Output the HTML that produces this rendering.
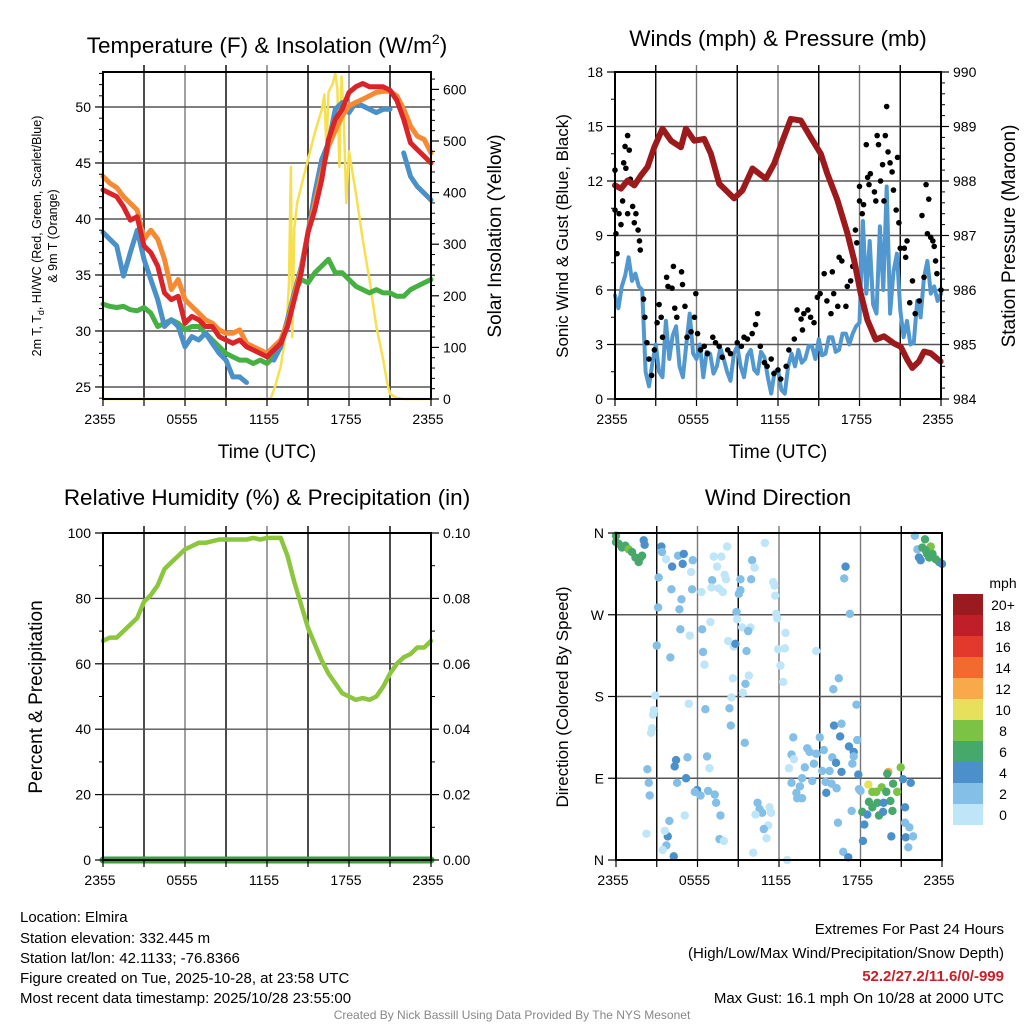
<!DOCTYPE html>
<html><head><meta charset="utf-8"><style>
html,body{margin:0;padding:0;background:#fff;}
svg{display:block;font-family:"Liberation Sans",Arial,sans-serif;}
</style></head>
<body>
<svg id="svg" width="1024" height="1024" viewBox="0 0 1024 1024" xmlns="http://www.w3.org/2000/svg">
<rect width="1024" height="1024" fill="#fff"/>
<g id="grids"></g>
<g id="marks"></g>
<g id="frames"></g>
<g id="texts" fill="#000">
<text x="267" y="53" font-size="22.5" text-anchor="middle">Temperature (F) &amp; Insolation (W/m<tspan font-size="14" dy="-9">2</tspan><tspan dy="9">)</tspan></text>
<text x="778" y="46" font-size="22.5" text-anchor="middle">Winds (mph) &amp; Pressure (mb)</text>
<text x="267" y="505" font-size="22.5" text-anchor="middle">Relative Humidity (%) &amp; Precipitation (in)</text>
<text x="778" y="505" font-size="22.5" text-anchor="middle">Wind Direction</text>
<text x="267" y="458" font-size="19" text-anchor="middle">Time (UTC)</text>
<text x="778" y="458" font-size="19" text-anchor="middle">Time (UTC)</text>
<g font-size="12.5" text-anchor="middle">
<text transform="translate(41,236) rotate(-90)">2m T, T<tspan font-size="9" dy="3">d</tspan><tspan dy="-3">, HI/WC (Red, Green, Scarlet/Blue)</tspan></text>
<text transform="translate(57,236) rotate(-90)">&amp; 9m T (Orange)</text>
</g>
<text transform="translate(501,236) rotate(-90)" font-size="19" text-anchor="middle">Solar Insolation (Yellow)</text>
<text transform="translate(568,236) rotate(-90)" font-size="17" text-anchor="middle">Sonic Wind &amp; Gust (Blue, Black)</text>
<text transform="translate(1015,236) rotate(-90)" font-size="19" text-anchor="middle">Station Pressure (Maroon)</text>
<text transform="translate(42,697) rotate(-90)" font-size="19" text-anchor="middle">Percent &amp; Precipitation</text>
<text transform="translate(568,697) rotate(-90)" font-size="17" text-anchor="middle">Direction (Colored By Speed)</text>
<g font-size="15">
<text x="20" y="922">Location: Elmira</text>
<text x="20" y="943">Station elevation: 332.445 m</text>
<text x="20" y="963">Station lat/lon: 42.1133; -76.8366</text>
<text x="20" y="983">Figure created on Tue, 2025-10-28, at 23:58 UTC</text>
<text x="20" y="1003">Most recent data timestamp: 2025/10/28 23:55:00</text>
</g>
<g font-size="15" text-anchor="end">
<text x="1004" y="934">Extremes For Past 24 Hours</text>
<text x="1004" y="958">(High/Low/Max Wind/Precipitation/Snow Depth)</text>
<text x="1004" y="981" fill="#c8202a" font-weight="bold">52.2/27.2/11.6/0/-999</text>
<text x="1004" y="1003">Max Gust: 16.1 mph On 10/28 at 2000 UTC</text>
</g>
<text x="512" y="1019" font-size="12" fill="#888" text-anchor="middle">Created By Nick Bassill Using Data Provided By The NYS Mesonet</text>
<text x="1003" y="588" font-size="14" text-anchor="middle">mph</text>
</g>
<g id="legend"></g>
</svg>
<script>
// ---- data ----
const timeLabels = ["2355","0555","1155","1755","2355"];
const timeTickHours = [0,6,12,18,24];
// temperatures every 0.5 h
const tempRed = [42.6,42.3,42,41.1,39.9,40.2,37.6,37,35.8,33.4,32.8,33.1,30.7,31.3,31,30.4,30.4,29.5,29.2,28.9,29.2,28.6,28.3,28,27.7,28.3,28.9,30.4,32.8,35.2,38.8,40.8,43.5,47.1,48.9,49.8,51.3,51.8,52.1,51.8,51.8,51.8,51.5,50.6,48.9,46.8,46.2,45.6,45];
const tempOrange = [43.8,43.2,42.8,42,41.4,40.8,38.2,39,38.2,36.4,33.7,34.6,32.8,32.2,31.6,31,30.7,30.1,29.8,29.8,30.1,28.9,28.6,28.3,28,28.6,29.2,30.7,33.1,35.5,38.8,41.4,44.1,46.5,47.9,49.2,50.1,50.4,50.7,51,51.3,51.4,51.4,51,49.8,48.3,47.4,47.1,45.9];
const tempBlue = [38.8,38.2,37.6,34.9,37,39,36.4,34.6,32.8,30.4,31,30.4,28.6,29.5,29.2,29.8,28.9,28,27.4,25.9,25.9,25.4,null,null,null,27.4,28.6,31,33.4,35.7,38.8,42.3,45.3,46.8,49.8,50.4,49.5,50.4,50.1,49.8,49.5,49.8,49.8,null,45.9,43.8,42.9,42.3,41.7];
const tempGreen = [32.4,32.2,32.1,32.2,31.9,31.8,32.1,31.6,30.4,30.7,31,30.7,30.1,30.4,30.4,29.8,29.2,28.6,28,27.7,27.4,27.4,27.1,27.4,27.1,27.7,28.9,31,33.4,34.6,34.3,35.2,35.8,36.4,35.2,35.2,34.6,34,33.7,33.4,33.7,33.4,33.4,33.1,33.1,33.7,34,34.3,34.6];
const solarHours = [0,12,12.3,12.6,13,13.4,13.6,13.75,13.85,14,14.2,14.5,15,15.5,16,16.2,16.35,16.5,16.8,17,17.15,17.3,17.45,17.6,17.8,18,18.5,19,19.5,20,20.5,20.8,21,21.5,22,24];
const solarWm2 = [0,0,3,25,63,130,220,450,120,330,380,412,464,516,560,590,480,595,610,632,600,450,625,560,380,480,400,309,231,141,76,30,10,2,0,0];
// wind every 0.25 h
const windSpeed = [5.7,5.0,6.2,6.8,7.8,6.5,6.9,6.2,6.0,1.5,0.7,2.0,3.0,1.5,1.2,4.3,2.2,3.5,4.0,1.8,1.2,3.0,4.7,2.5,2.2,3.0,1.2,2.6,2.5,1.4,1.8,2.8,2.2,1.5,1.0,2.5,2.9,1.8,1.2,2.4,2.7,1.6,1.4,2.6,2.3,1.2,0.3,1.5,1.6,0.5,0.3,1.8,2.5,1.8,2.7,2.0,2.2,2.9,2.9,2.2,3.3,2.4,2.5,3.4,3.4,2.6,2.7,3.6,3.6,3.0,3.6,4.0,4.2,9.8,5.8,8.7,5.2,4.7,9.5,6.0,11.7,4.7,7.0,8.0,4.9,3.4,4.3,3.0,3.1,5.4,4.5,6.7,7.6,5.8,6.2,5.4,5.8];
const gustHours = [0,0,0.07,0.15,0.3,0.44,0.56,0.64,0.74,0.8,0.93,1.05,1.13,0.93,1.3,1.42,1.54,1.7,1.8,1.86,2.1,2.2,2.35,2.5,2.7,2.9,3.1,3.25,3.4,3.5,3.8,3.9,4.2,4.3,4.4,4.55,4.9,4.97,5.15,5.3,5.6,5.85,5.95,6.08,6.3,6.57,6.8,7.2,7.4,7.67,7.9,8.3,8.5,9,9.3,9.5,9.75,10.1,10.35,10.5,10.7,11,11.2,11.5,11.7,12,12.2,12.6,12.8,13.2,13.4,13.7,13.8,13.9,14.2,14.4,14.65,14.9,15.1,15.4,15.6,15.9,16,16.1,16.4,16.5,16.7,17,17.1,17.35,17.5,17.7,17.8,18,18,18.2,18.3,18.5,18.6,18.7,18.8,19.1,19.2,19.3,19.4,19.55,19.7,19.8,19.9,20,20.1,20.25,20.4,20.5,20.7,20.8,20.9,21,21.3,21.4,21.5,21.7,21.9,22.1,22.4,22.6,22.75,22.9,23,23.1,23.24,23.4,23.5,23.6,23.7,24];
const gustMph = [12.6,10.4,9.1,8.0,10.2,9.6,10.9,13.0,13.9,12.7,14.5,13.7,12.1,10.2,10.6,9.7,10.2,9.3,8.7,8.2,5.5,4.5,3.1,2.2,1.3,2.7,4.2,5.2,4.5,3.4,6.7,6.2,6.1,7.3,5.0,4.5,7.0,6.3,5.1,3.4,3.7,4.5,5.8,3.6,2.7,2.9,2.5,3.4,3.1,2.9,2.3,2.7,2.5,3.1,2.9,3.4,3.3,3.6,4.1,4.7,2.9,2.0,1.8,2.2,1.4,1.6,1.1,1.8,2.7,3.3,4.9,4.4,3.8,4.7,4.9,4.5,4.2,5.6,5.8,6.9,5.4,4.7,7.0,5.8,5.1,7.8,7.6,5.1,6.2,6.5,7.3,9.3,8.6,10.9,11.7,10.2,10.7,14.0,12.2,11.8,12.4,11.4,10.9,14.5,14.0,12.0,12.9,10.9,14.5,16.1,13.6,13.0,12.5,11.5,10.4,13.3,9.7,8.3,8.3,7.8,8.7,5.3,6.5,4.7,5.4,10.1,6.7,11.8,9.1,11.0,8.9,8.7,8.4,7.6,6.9,6.0];
const presHours = [0,0.44,0.93,1.42,1.91,2.4,2.89,3.5,4.12,4.85,5.22,5.83,6.57,7.06,7.67,8.28,8.77,9.39,10.12,11.1,11.72,12.33,12.94,13.68,14.41,15.15,15.64,16.37,17.11,17.6,18.09,18.58,19.19,19.8,20.54,21.03,21.52,21.89,22.38,22.75,23.24,23.97];
const presMb = [987.92,987.86,988.01,987.92,988.10,988.26,988.62,988.96,988.74,988.62,988.96,988.74,988.77,988.50,987.95,987.80,987.68,987.83,988.23,988.04,988.32,988.74,989.14,989.11,988.80,988.50,988.13,987.65,987.04,986.55,985.94,985.45,985.09,985.15,985.02,984.96,984.72,984.57,984.69,984.87,984.84,984.69];
// RH every 0.5 h
const rhPct = [67,68,68,70,72,74,79,81,84,89,91,93,95,96,97,97,97.5,98,98,98,98,98,98.5,98,98.5,98.5,98.5,93,85,78,71,66,61,57,54,51,50,49,49.5,49,50,53,57,60,62,63,65,65,67];
const precipIn = [0,0,0,0,0,0,0,0,0,0,0,0,0,0,0,0,0,0,0,0,0,0,0,0,0];
// wind direction scatter
const dirHours = [0,0,0.2,0.44,0.69,0.93,1.18,1.43,1.67,1.8,1.92,2.04,2.11,3.34,3.39,3.69,4.13,4.57,4.99,4.91,5.65,5.53,3.14,4.08,4.82,4.67,3.1,5.6,6.29,7.2,7.76,7.44,8.18,8,8.1,7.08,7.03,7.57,7.86,9.16,9.04,9.16,10.02,10.2,9.95,10.96,11.57,11.67,11.72,8.87,8.92,9.29,9.9,9.73,11.8,11.87,12.48,12.43,11.94,12.11,12.31,6.95,6.34,5.43,4.74,3,4,6.41,6.51,8.26,8.67,8.79,9.61,9.78,9.53,8.6,9.34,8.5,8.35,8.45,6.58,5.36,2.9,2.8,2.73,2.65,2.58,9.48,14.74,17.22,16.8,16.9,16.4,16,17.7,16.05,16.6,16.5,15,13.05,17.76,17.15,17.5,17.5,14.08,14.25,14.74,15.3,15.92,16.2,12.92,13.1,12.73,13.9,14.57,15.18,15.72,16.6,17.4,13.7,14.45,15.43,15.87,12.92,13.54,13.28,13.34,13.7,15.48,16.24,17.89,17.84,17.35,16.34,16.73,17.1,12.6,10.42,10.57,10.76,11.3,11.42,10.27,11.2,10.88,11.08,10.1,7.62,7.94,7.69,7.37,7.27,6.78,5.97,5.8,6.22,6.7,6.88,5.26,4.42,4.32,5.16,4.5,5.06,3.93,3.81,3.59,3.71,3.44,4.25,2.24,2.48,2.41,2.31,18.13,18.5,18.62,18.87,18.58,19.16,19.24,19.56,19.9,20.05,19.97,20.4,20.7,20.96,21.13,20.2,20.35,19.36,18.87,19.7,19.66,18.28,18.18,20.27,21.28,21.7,21.33,21.52,21.6,21.87,21.28,18,22,22.75,23.17,22.8,22.9,22.3,22.43,22.19,23.3,23.54,23.78,24,23.05,22.55];
const dirDeg = [357,350,348,344,346,342,339,333,328,333,335,352,347,345,339,331,323,335,337,326,330,317,311,298,287,276,278,298,295,334,334,323,345,314,309,308,300,299,295,309,293,297,330,322,309,349,306,302,291,273,265,256,256,252,271,266,250,233,232,214,196,262,254,247,254,236,223,229,215,241,235,238,230,203,194,200,184,179,167,148,166,172,181,165,160,145,140,129,230,271,310,323,200,188,171,148,150,136,135,135,132,125,119,114,123,119,117,121,113,107,116,111,101,102,106,98,98,97,106,90,87,86,84,85,81,74,68,68,74,79,78,94,54,41,9,3,0,63,56,52,58,52,50,38,34,24,8,23,21,49,63,72,76,77,75,71,114,101,113,110,103,90,85,49,43,26,32,16,11,4,29,71,85,100,53,50,64,75,83,75,63,80,75,97,95,84,75,102,89,65,54,49,58,63,53,39,21,26,58,85,25,14,36,26,41,76,357,353,345,341,337,333,330,342,337,331,328,326,333,344];
const dirSpeed = [7,7,7,7,7,9,7,7,7,7,7,5,5,5,3,1,5,3,5,5,3,1,3,3,3,3,3,3,1,1,1,1,1,1,1,3,1,1,1,3,3,3,3,1,3,1,1,1,1,3,1,1,1,3,1,1,1,1,1,1,1,1,3,1,3,3,3,3,1,1,1,5,3,1,3,1,1,1,3,3,3,1,1,1,1,1,1,3,1,3,3,5,3,3,3,5,3,5,3,3,3,5,5,3,3,3,3,3,3,5,3,1,1,3,3,3,3,5,3,3,3,3,3,3,3,3,3,3,5,3,3,5,3,3,3,5,1,3,3,3,1,1,1,1,3,1,1,3,1,3,3,3,3,5,3,3,3,1,3,5,5,5,3,1,3,5,1,3,1,5,1,3,3,3,7,5,7,9,11,9,7,9,7,13,7,7,9,9,5,7,7,7,7,5,5,5,5,5,5,5,5,3,3,3,3,3,3,7,9,7,7,5,5,3,7,7,7,5,7,7];
const legendLabels = ["20+","18","16","14","12","10","8","6","4","2","0"];
const legendColors = ["#9b1a1f","#c01f2a","#e2392c","#f26a2d","#f8aa4b","#e7e05c","#7cc244","#47a86b","#4b90ca","#83bfe7","#bee5f8"];

// ---- helpers ----
const NS = "http://www.w3.org/2000/svg";
function mk(parent, tag, attrs){const e=document.createElementNS(NS,tag);for(const k in attrs)e.setAttribute(k,attrs[k]);document.getElementById(parent).appendChild(e);return e;}
function pathD(xs, ys){let d="",pen=false;for(let i=0;i<xs.length;i++){if(ys[i]==null){pen=false;continue;}d+=(pen?"L":"M")+xs[i].toFixed(1)+","+ys[i].toFixed(1);pen=true;}return d;}
function speedColor(s){const idx=Math.min(10,Math.floor(s/2));return legendColors[10-idx];}

const P1={x0:103,x1:431,y0:72,y1:399}, P2={x0:615,x1:941,y0:72,y1:399}, P3={x0:103,x1:431,y0:533,y1:860}, P4={x0:616,x1:942,y0:533,y1:860};
const xT=(P,t)=>P.x0+t/24*(P.x1-P.x0);
const yTemp=v=>387-(v-25)*11.2;
const ySolar=w=>399-w*0.516;
const yWind=v=>399-v*327/18;
const yPres=p=>399-(p-984)*327/6;
const yRH=v=>860-v*3.27;
const yPrecip=v=>860-v*3270;
const yDir=d=>860-d/360*327;

// ---- grids, frames, ticks ----
function grid(P,name,hys){
  for(let h=3;h<24;h+=3){const x=xT(P,h);const l=mk("grids","line",{x1:x,x2:x,y1:P.y0-7,y2:P.y1,stroke:(h%6? "#000":"#777"),"stroke-width":1.4});
    
    }
  hys.forEach(y=>{const l=mk("grids","line",{x1:P.x0,x2:P.x1,y1:y,y2:y,stroke:"#555","stroke-width":1.4});
    
    });
}
function frame(P,name){
  const r=mk("frames","rect",{x:P.x0,y:P.y0,width:P.x1-P.x0,height:P.y1-P.y0,fill:"none",stroke:"#000","stroke-width":2});
  
  
  for(let h=0;h<=24;h+=3){const x=xT(P,h);mk("frames","line",{x1:x,x2:x,y1:P.y1,y2:P.y1+7,stroke:"#000","stroke-width":1.2});}
  timeTickHours.forEach((h,i)=>{const t=mk("frames","text",{x:xT(P,h)-3,y:P.y1+25,"font-size":14,"text-anchor":"middle"});t.textContent=timeLabels[i];
    
    });
}
function yTicks(P,name,vals,fy,fmt,side,minor){
  const x=side==="L"?P.x0:P.x1, dir=side==="L"?-1:1;
  if(minor) minor.forEach(v=>mk("frames","line",{x1:x,x2:x+dir*4,y1:fy(v),y2:fy(v),stroke:"#000","stroke-width":1}));
  vals.forEach(v=>{const y=fy(v);mk("frames","line",{x1:x,x2:x+dir*8,y1:y,y2:y,stroke:"#000","stroke-width":1.2});
    const t=mk("frames","text",{x:x+dir*12,y:y+5,"font-size":14,"text-anchor":side==="L"?"end":"start"});t.textContent=fmt(v);
    
    });
}
const tempTicks=[25,30,35,40,45,50], solarTicks=[0,100,200,300,400,500,600];
grid(P1,"temp",tempTicks.map(yTemp));
const windTicks=[0,3,6,9,12,15,18], presTicks=[984,985,986,987,988,989,990];
grid(P2,"wind",windTicks.slice(1,6).map(yWind));
const rhTicks=[0,20,40,60,80,100], prTicks=[0,0.02,0.04,0.06,0.08,0.10];
grid(P3,"rh",rhTicks.slice(1,5).map(yRH));
const dirTicks=[0,90,180,270,360], dirLabels=["N","E","S","W","N"];
grid(P4,"dir",dirTicks.slice(1,4).map(yDir));

// ---- panel 1 ----
const half=tempRed.map((_,i)=>i*0.5);
function series(P,name,hours,vals,fy,color,w){const p=mk("marks","path",{d:pathD(hours.map(h=>xT(P,h)),vals.map(v=>v==null?null:fy(v))),fill:"none",stroke:color,"stroke-width":w,"stroke-linejoin":"round","stroke-linecap":"round"});
  
  return p;}
series(P1,"solar-insolation-line",solarHours,solarWm2,ySolar,"#f7e04f",2.5);
series(P1,"green-dewpoint-line",half,tempGreen,yTemp,"#47b043",5);
series(P1,"blue-windchill-line",half,tempBlue,yTemp,"#4a90c9",5);
series(P1,"orange-9m-temp-line",half,tempOrange,yTemp,"#f58a33",5);
series(P1,"red-2m-temp-line",half,tempRed,yTemp,"#d9252a",5);

// ---- panel 2 ----
const quarter=windSpeed.map((_,i)=>i*0.25);
series(P2,"sonic-wind-line",quarter,windSpeed,yWind,"#5298d0",4);
gustHours.forEach((h,i)=>{const c=mk("marks","circle",{cx:xT(P2,h),cy:yWind(gustMph[i]),r:2.8,fill:"#000"});
  
  });
series(P2,"pressure-line",presHours,presMb,yPres,"#9c1a1c",6);

// ---- panel 3 ----
series(P3,"relative-humidity-line",half,rhPct,yRH,"#8cc63f",4.5);
series(P3,"precipitation-line",precipIn.map((_,i)=>i),precipIn,yPrecip,"#3b9e3f",7);

// ---- panel 4 ----
dirHours.forEach((h,i)=>{const c=mk("marks","circle",{cx:xT(P4,h),cy:yDir(dirDeg[i]),r:4.2,fill:speedColor(dirSpeed[i])});
  
  });

// frames and ticks
frame(P1,"temp");frame(P2,"wind");frame(P3,"rh");frame(P4,"dir");
yTicks(P1,"temp-y",tempTicks,yTemp,v=>v,"L",[24,26,27,28,29,31,32,33,34,36,37,38,39,41,42,43,44,46,47,48,49,51,52,53]);
yTicks(P1,"solar-y",solarTicks,ySolar,v=>v,"R",[20,40,60,80,120,140,160,180,220,240,260,280,320,340,360,380,420,440,460,480,520,540,560,580,620]);
yTicks(P2,"wind-y",windTicks,yWind,v=>v,"L",[1.5,4.5,7.5,10.5,13.5,16.5]);
yTicks(P2,"pressure-y",presTicks,yPres,v=>v,"R",[984.2,984.4,984.6,984.8,985.2,985.4,985.6,985.8,986.2,986.4,986.6,986.8,987.2,987.4,987.6,987.8,988.2,988.4,988.6,988.8,989.2,989.4,989.6,989.8]);
yTicks(P3,"rh-y",rhTicks,yRH,v=>v,"L",[10,30,50,70,90]);
yTicks(P3,"precip-y",prTicks,yPrecip,v=>v.toFixed(2),"R",[0.01,0.03,0.05,0.07,0.09]);
yTicks(P4,"dir-y",dirTicks,yDir,(v)=>dirLabels[dirTicks.indexOf(v)],"L",null);

// legend
legendLabels.forEach((lab,i)=>{const y=594+i*21;
  const r=mk("legend","rect",{x:953,y:y,width:30,height:21,fill:legendColors[i]});
  
  
  const t=mk("legend","text",{x:1003,y:y+16,"font-size":14,"text-anchor":"middle"});t.textContent=lab;
  
  });
</script>
</body></html>
